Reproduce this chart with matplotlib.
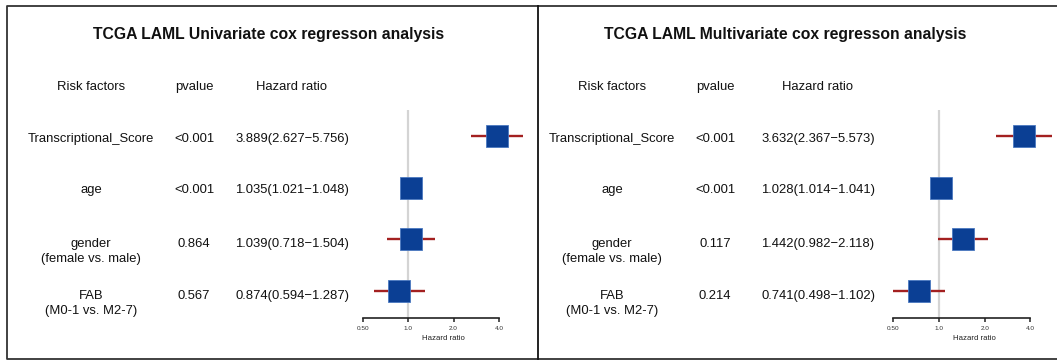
import numpy as np
import matplotlib
matplotlib.use("Agg")
import matplotlib.pyplot as plt
from matplotlib.lines import Line2D

plt.rcParams['font.family'] = ['Liberation Sans', 'DejaVu Sans']

# ---------------- data ----------------
factors = ["Transcriptional_Score", "age", "gender\n(female vs. male)", "FAB\n(M0-1 vs. M2-7)"]

uni_p = ["<0.001", "<0.001", "0.864", "0.567"]
uni_hr = [3.889, 1.035, 1.039, 0.874]
uni_lo = [2.627, 1.021, 0.718, 0.594]
uni_hi = [5.756, 1.048, 1.504, 1.287]

multi_p = ["<0.001", "<0.001", "0.117", "0.214"]
multi_hr = [3.632, 1.028, 1.442, 0.741]
multi_lo = [2.367, 1.014, 0.982, 0.498]
multi_hi = [5.573, 1.041, 2.118, 1.102]

ticks = [0.5, 1.0, 2.0, 4.0]
tick_labels = ["0.50", "1.0", "2.0", "4.0"]

titles = ["TCGA LAML Univariate cox regresson analysis",
          "TCGA LAML Multivariate cox regresson analysis"]

# ---------------- layout ----------------
W, H = 1057, 361
fig = plt.figure(figsize=(W / 100, H / 100), dpi=100)


def fx(x):
    return x / W


def fy(y):
    return 1 - y / H


BODY = 9.4
TXT = '#111111'
BOX = '#0B3F94'
CI = '#A32020'

row_px = [137, 188, 239, 291]


def panel(title, title_x, col_x, pvals, hr, lo, hi, ax_left, ax_right, one_px, per_dbl, xlab_x):
    # title
    fig.text(fx(title_x), fy(38.5), title, ha='center', va='baseline',
             fontsize=11.3, fontweight='bold', color=TXT)
    # headers
    for cx, lab in zip(col_x, ["Risk factors", "pvalue", "Hazard ratio"]):
        fig.text(fx(cx), fy(85 + 4.7), lab, ha='center', va='baseline', fontsize=BODY, color=TXT)
    # rows
    for i, name in enumerate(factors):
        lines = name.split("\n")
        y0 = row_px[i] + (3 if len(lines) > 1 else 0)
        for k, ln in enumerate(lines):
            fig.text(fx(col_x[0]), fy(y0 + 15 * k + 4.7), ln, ha='center', va='baseline',
                     fontsize=BODY, color=TXT)
        fig.text(fx(col_x[1]), fy(y0 + 4.7), pvals[i], ha='center', va='baseline',
                 fontsize=BODY, color=TXT)
        s = f"{hr[i]:.3f}({lo[i]:.3f}\u2212{hi[i]:.3f})"
        fig.text(fx(col_x[2]), fy(y0 + 4.7), s, ha='center', va='baseline',
                 fontsize=BODY, color=TXT)

    # forest axes
    top_px, bot_px = 110, 318
    ax = fig.add_axes([fx(ax_left), fy(bot_px), (ax_right - ax_left) / W, (bot_px - top_px) / H])
    ax.set_xscale('log', base=2)
    ax.set_xlim(2 ** ((ax_left - one_px) / per_dbl), 2 ** ((ax_right - one_px) / per_dbl))
    sp = 51.67
    ax.set_ylim((bot_px - 136) / sp, (top_px - 136) / sp)
    ax.patch.set_alpha(0)
    for s_ in ['top', 'right', 'left']:
        ax.spines[s_].set_visible(False)
    ax.spines['bottom'].set_bounds(ticks[0], ticks[-1])
    ax.spines['bottom'].set_linewidth(1.2)
    ax.spines['bottom'].set_color('#222222')
    ax.axvline(1.0, color='#d4d4d4', lw=1.6, zorder=1)
    ys = np.arange(len(hr))
    for i in range(len(hr)):
        ax.plot([lo[i], hi[i]], [ys[i], ys[i]], color=CI, lw=1.7, solid_capstyle='butt',
                zorder=2, clip_on=False)
    ax.plot(hr, ys, linestyle='none', marker='s', markersize=15.6, markerfacecolor=BOX,
            markeredgecolor='#4a78c0', markeredgewidth=0.6, zorder=3, clip_on=False)
    ax.set_xticks(ticks)
    ax.set_xticklabels(tick_labels)
    ax.xaxis.set_minor_locator(matplotlib.ticker.NullLocator())
    ax.tick_params(axis='x', length=3.2, width=1.1, color='#222222', labelsize=4.6,
                   labelcolor='#333333', pad=2.5)
    ax.set_yticks([])
    fig.text(fx(xlab_x), fy(339), "Hazard ratio", ha='center', va='center', fontsize=5.6,
             color='#222222')
    return ax


panel(titles[0], 269, [91, 194, 292], uni_p, uni_hr, uni_lo, uni_hi,
      350, 536, 408.3, 45.3, 443)
panel(titles[1], 785, [612, 715, 818], multi_p, multi_hr, multi_lo, multi_hi,
      878, 1057, 939.0, 45.7, 974)

# frames
bc = '#333333'
fig.add_artist(Line2D([fx(1060), fx(7), fx(7), fx(1060)],
                      [fy(6), fy(6), fy(359), fy(359)], color=bc, lw=1.3))
fig.add_artist(Line2D([fx(538), fx(538)], [fy(6), fy(359)], color='#111111', lw=1.3))

fig.savefig("out.png", dpi=100)
